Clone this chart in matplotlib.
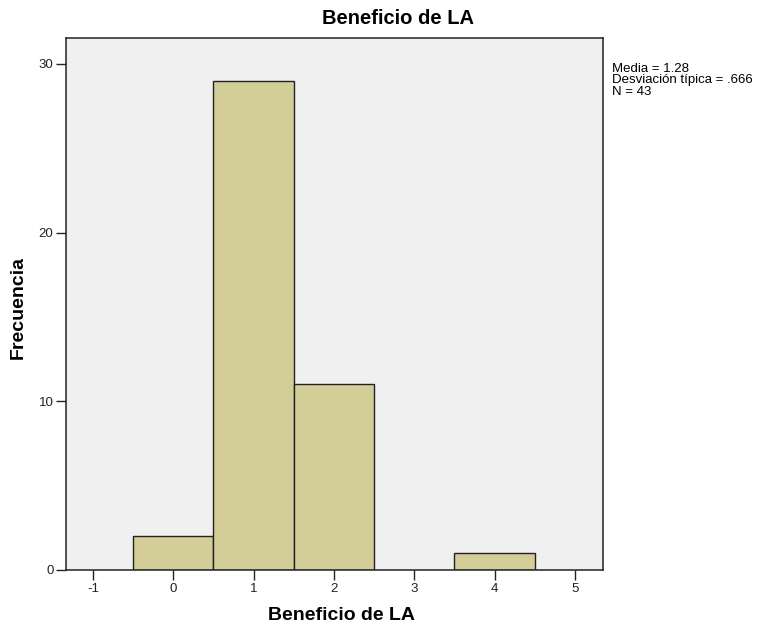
import matplotlib
matplotlib.use("Agg")
import matplotlib.pyplot as plt

plt.rcParams['font.family'] = ['Liberation Sans', 'DejaVu Sans']

categories = [0, 1, 2, 4]
counts = [2, 29, 11, 1]
xticks = [-1, 0, 1, 2, 3, 4, 5]
yticks = [0, 10, 20, 30]
title = "Beneficio de LA"
xlabel = "Beneficio de LA"
ylabel = "Frecuencia"
stats_lines = ["Media = 1.28", "Desviación típica = .666", "N = 43"]

W, H = 764, 626
fig = plt.figure(figsize=(W/100, H/100), dpi=100)
ax = fig.add_axes([66/W, 1-570/H, (603-66)/W, (570-38)/H])
ax.set_facecolor('#F0F0F0')
ax.bar(categories, counts, width=1.0, color='#D3CE97', edgecolor='#222222', linewidth=1.0)
ax.set_xlim(-1.336, 5.35)
ax.set_ylim(0, 31.54)
ax.set_xticks(xticks)
ax.set_xticklabels([str(t) for t in xticks])
ax.set_yticks(yticks)
ax.tick_params(direction='out', length=7, width=1, labelsize=9.5, colors='#222222', pad=2)
for s in ax.spines.values():
    s.set_linewidth(1.1)
    s.set_color('#222222')
fig.text(342/W, 1-615/H, xlabel, ha='center', va='center', fontsize=14, fontweight='bold')
fig.text(18/W, 1-308/H, ylabel, ha='center', va='center', rotation=90, fontsize=14, fontweight='bold')
fig.text(398/W, 1-18/H, title, ha='center', va='center', fontsize=14.5, fontweight='bold')
for i, line in enumerate(stats_lines):
    fig.text(612/W, 1-(69 + 11.5*i)/H, line, ha='left', va='center', fontsize=9.5)
fig.savefig('out.png', dpi=100)
